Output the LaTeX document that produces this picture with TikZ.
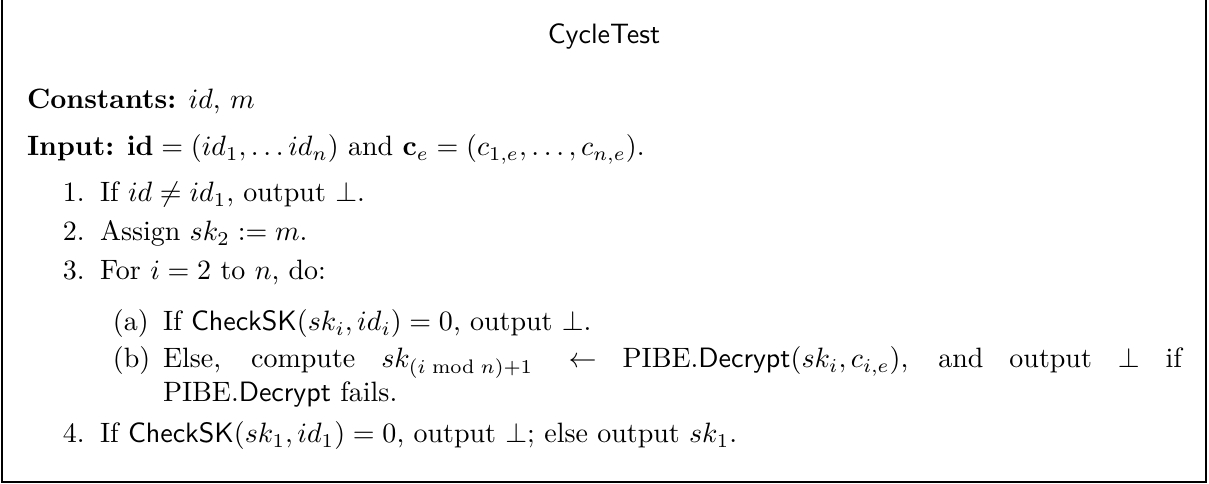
\documentclass[tikz,border=0pt]{standalone}
\usepackage{amsmath,amssymb}
\begin{document}
\begin{tikzpicture}[x=0.35714pt,y=-0.35714pt,
  txt/.style={anchor=base west,inner sep=0pt,outer sep=0pt,font=\normalsize},
  frame/.style={draw=black,line width=0.6pt}]
\useasboundingbox (0,0) rectangle (1209,484);
\draw[frame] (2,-10) -- (2,482) -- (1206,482) -- (1206,-10);
\node[anchor=base,inner sep=0pt,font=\normalsize\sffamily] (title) at (604,44) {CycleTest};
\node[txt] (const) at (27,109) {\textbf{Constants:} $id$, $m$};
\node[txt] (input) at (27,156) {\textbf{Input:} $\mathbf{id}=(id_1,\ldots id_n)$ and $\mathbf{c}_e=(c_{1,e},\ldots,c_{n,e})$.};
\node[txt] (l1) at (63,202) {1.};
\node[txt] (t1) at (100,202) {If $id\neq id_1$, output $\bot$.};
\node[txt] (l2) at (63,241) {2.};
\node[txt] (t2) at (100,241) {Assign $sk_2 := m$.};
\node[txt] (l3) at (63,280) {3.};
\node[txt] (t3) at (100,280) {For $i=2$ to $n$, do:};
\node[txt] (la) at (113,331) {(a)};
\node[txt] (ta) at (163,331) {If $\mathsf{CheckSK}(sk_i,id_i)=0$, output $\bot$.};
\node[txt] (lb) at (113,368) {(b)};
\node[txt] (tb) at (163,368) {\parbox[t]{363.9pt}{Else, compute $sk_{(i \bmod n)+1} \leftarrow$ PIBE.$\mathsf{Decrypt}(sk_i,c_{i,e})$, and output $\bot$ if\linebreak PIBE.$\mathsf{Decrypt}$ fails.}};
\node[txt] (l4) at (63,443) {4.};
\node[txt] (t4) at (100,443) {If $\mathsf{CheckSK}(sk_1,id_1)=0$, output $\bot$; else output $sk_1$.};
\end{tikzpicture}
\end{document}
